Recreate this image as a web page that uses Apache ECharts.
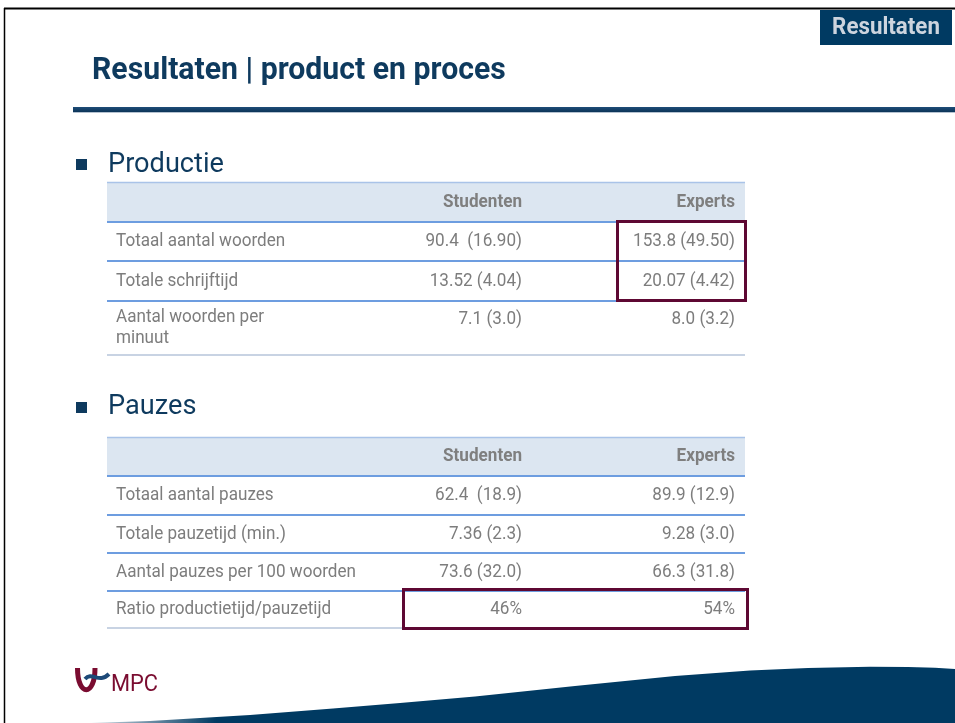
<!DOCTYPE html>
<html>
<head>
<meta charset="utf-8">
<script src="https://cdn.jsdelivr.net/npm/echarts@6/dist/echarts.min.js"></script>
<style>
html,body{margin:0;padding:0;background:#fff;}
#main{width:955px;height:723px;}
</style>
</head>
<body>
<div id="main"></div>
<script>
// ---- Data ----
var slideTag = 'Resultaten';
var slideTitle = 'Resultaten | product en proces';
var columns = ['Studenten', 'Experts'];

var productieTitle = 'Productie';
var productieRows = ['Totaal aantal woorden', 'Totale schrijftijd', 'Aantal woorden per\nminuut'];
var productieStudenten = ['90.4  (16.90)', '13.52 (4.04)', '7.1 (3.0)'];
var productieExperts = ['153.8 (49.50)', '20.07 (4.42)', '8.0 (3.2)'];

var pauzesTitle = 'Pauzes';
var pauzesRows = ['Totaal aantal pauzes', 'Totale pauzetijd (min.)', 'Aantal pauzes per 100 woorden', 'Ratio productietijd/pauzetijd'];
var pauzesStudenten = ['62.4  (18.9)', '7.36 (2.3)', '73.6 (32.0)', '46%'];
var pauzesExperts = ['89.9 (12.9)', '9.28 (3.0)', '66.3 (31.8)', '54%'];

var logoText = 'MPC';

// ---- Styles ----
var FONT = 'Roboto, "DejaVu Sans", sans-serif';
var NAVY = '#0e3a5e';
var DARKBLUE = '#003a62';
var GRAY = '#7d7d7d';
var HEADBG = '#dce6f1';
var LINEBLUE = '#6d9de0';
var MAROON = '#5e0833';
var LOGORED = '#7a0c30';

var chart = echarts.init(document.getElementById('main'), null, {renderer: 'canvas'});

function txt(x, y, s, opt, sx) {
  return {
    type: 'text', x: x, y: y, scaleX: sx || 0.95,
    style: Object.assign({
      text: s, font: '18px ' + FONT, fill: GRAY,
      textAlign: 'left', textVerticalAlign: 'middle'
    }, opt || {})
  };
}
function line(x1, y1, x2, y2, color, w) {
  return {type: 'line', shape: {x1: x1, y1: y1, x2: x2, y2: y2}, style: {stroke: color, lineWidth: w}};
}

function buildTable(top, rowTops, rows, stud, exp) {
  var els = [];
  var L = 107, R = 745;
  var headB = rowTops[0];
  els.push({type: 'rect', shape: {x: L, y: top, width: R - L, height: headB - top}, style: {fill: HEADBG}});
  els.push(line(L, top + 0.5, R, top + 0.5, '#a9c3e8', 1.5));
  els.push(txt(522, (top + headB) / 2, columns[0], {textAlign: 'right', font: 'bold 18px ' + FONT, fill: '#7f7f7f'}));
  els.push(txt(735, (top + headB) / 2, columns[1], {textAlign: 'right', font: 'bold 18px ' + FONT, fill: '#7f7f7f'}));
  for (var i = 0; i < rows.length; i++) {
    var y0 = rowTops[i], y1 = rowTops[i + 1];
    els.push(line(L, y0, R, y0, LINEBLUE, 2));
    var multi = rows[i].indexOf('\n') >= 0;
    var cy = multi ? y0 + 18 : (y0 + y1) / 2;
    els.push(txt(116, multi ? (y0 + y1) / 2 : cy, rows[i], {lineHeight: 21}));
    els.push(txt(522, cy, stud[i], {textAlign: 'right'}));
    els.push(txt(735, cy, exp[i], {textAlign: 'right'}));
  }
  els.push(line(L, rowTops[rows.length], R, rowTops[rows.length], '#c8d3e3', 2));
  return els;
}

var g = [];
// frame
g.push(line(4.5, 8, 4.5, 723, '#000', 1.5));
g.push(line(4, 8.5, 955, 8.5, '#000', 2));
// tag
g.push({type: 'rect', shape: {x: 820, y: 10, width: 132, height: 35}, style: {fill: DARKBLUE}});
g.push(txt(886, 28, slideTag, {textAlign: 'center', font: 'bold 23px ' + FONT, fill: '#cdd4de'}, 0.97));
// title
g.push(txt(92, 71, slideTitle, {font: 'bold 31px ' + FONT, fill: NAVY}, 0.975));
// rule
g.push({type: 'rect', shape: {x: 73, y: 107, width: 882, height: 5}, style: {fill: {type: 'linear', x: 0, y: 0, x2: 0, y2: 1, colorStops: [{offset: 0, color: '#1e4c78'}, {offset: 1, color: '#0c3558'}]}}});
g.push(line(73, 112.5, 955, 112.5, '#b5c2d0', 1));

// section 1
g.push({type: 'rect', shape: {x: 76, y: 159, width: 11, height: 11}, style: {fill: NAVY}});
g.push(txt(108, 165, productieTitle, {font: '28px ' + FONT, fill: NAVY}, 0.97));
g = g.concat(buildTable(182, [222, 261, 301, 355], productieRows, productieStudenten, productieExperts));
g.push({type: 'rect', shape: {x: 617.5, y: 221.5, width: 128, height: 79}, style: {fill: 'none', stroke: MAROON, lineWidth: 3}});

// section 2
g.push({type: 'rect', shape: {x: 76, y: 402, width: 11, height: 11}, style: {fill: NAVY}});
g.push(txt(108, 407, pauzesTitle, {font: '28px ' + FONT, fill: NAVY}, 0.97));
g = g.concat(buildTable(437, [476, 515, 553, 591, 628], pauzesRows, pauzesStudenten, pauzesExperts));
g.push({type: 'rect', shape: {x: 403.5, y: 589.5, width: 344, height: 39}, style: {fill: 'none', stroke: MAROON, lineWidth: 3}});

// wave (decorative shape)
g.push({type: 'polygon', shape: {points: [[60, 724], [150, 721], [250, 715], [333, 708.5], [400, 703], [475, 696.5], [575, 686], [675, 676], [750, 670.5], [808, 668], [870, 666.8], [908, 667], [935, 667.8], [956, 669], [956, 724]]},
  style: {fill: {type: 'linear', x: 60, y: 0, x2: 320, y2: 0, global: true, colorStops: [{offset: 0, color: 'rgba(0,58,98,0)'}, {offset: 0.6, color: '#003a62'}, {offset: 1, color: '#003a62'}]}}});

// logo
g.push({type: 'bezierCurve', shape: {x1: 77.5, y1: 668, cpx1: 77.5, cpy1: 697, cpx2: 95, cpy2: 697, x2: 95, y2: 668}, style: {stroke: LOGORED, lineWidth: 5, fill: 'none'}});
g.push({type: 'bezierCurve', shape: {x1: 85, y1: 679, cpx1: 92, cpy1: 671, cpx2: 99, cpy2: 684, x2: 109, y2: 674}, style: {stroke: '#1d4a78', lineWidth: 4, fill: 'none'}});
g.push(txt(111, 685, logoText, {font: '23px ' + FONT, fill: LOGORED}, 0.95));

chart.setOption({
  animation: false,
  graphic: {elements: g}
});
</script>
</body>
</html>
